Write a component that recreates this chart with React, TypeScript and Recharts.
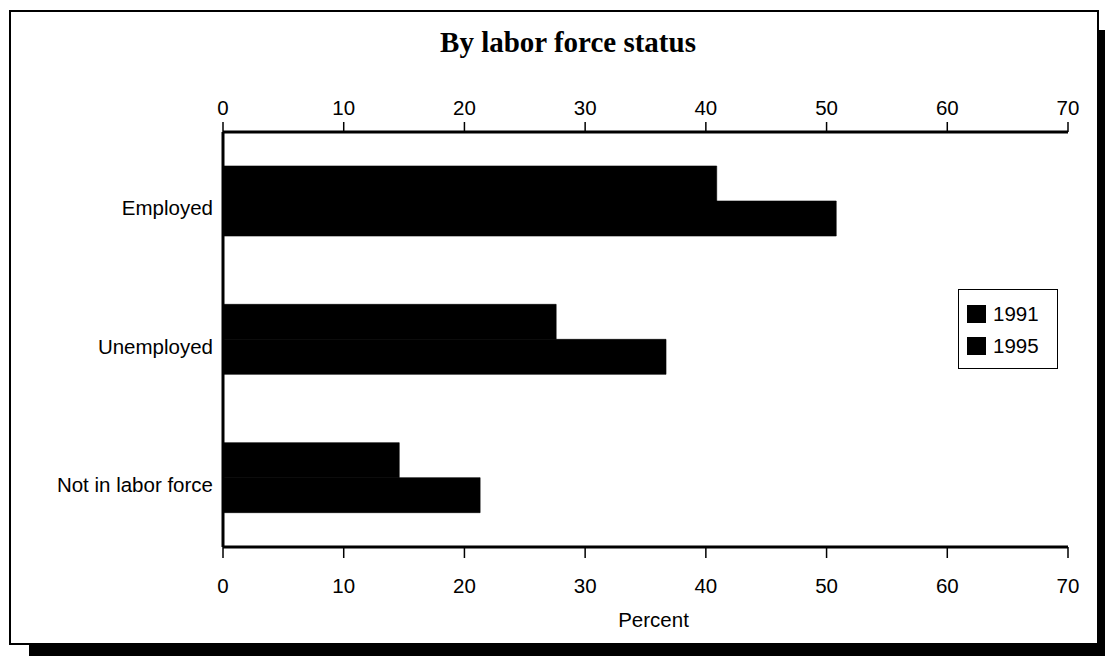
import { BarChart, Bar, XAxis, YAxis } from "recharts";

const categories = ["Employed", "Unemployed", "Not in labor force"];
const values1991 = [40.9, 27.6, 14.6];
const values1995 = [50.8, 36.7, 21.3];
const percentTicks = [0, 10, 20, 30, 40, 50, 60, 70];
const seriesNames = ["1991", "1995"];

const data = categories.map((name, i) => ({
  name,
  y1991: values1991[i],
  y1995: values1995[i],
}));

const SANS = '"Liberation Sans", Arial, sans-serif';
const FS = 20.5;

const LegendBox = () => (
  <div
    style={{
      position: "absolute",
      left: 958,
      top: 289,
      width: 100,
      height: 80,
      border: "1.5px solid #000",
      boxSizing: "border-box",
      background: "#fff",
      padding: "8px 0 0 8px",
      fontFamily: SANS,
      fontSize: FS,
      color: "#000",
    }}
  >
    {seriesNames.map((s) => (
      <div
        key={s}
        style={{ display: "flex", alignItems: "center", height: 32, lineHeight: "32px" }}
      >
        <span
          style={{
            display: "inline-block",
            width: 19,
            height: 18,
            background: "#000",
            marginRight: 7,
          }}
        />
        {s}
      </div>
    ))}
  </div>
);

export default function App() {
  return (
    <>
      {/* frame with drop shadow */}
      <div
        style={{
          position: "absolute",
          left: 9,
          top: 10,
          width: 1090,
          height: 635,
          border: "2px solid #000",
          boxSizing: "border-box",
          background: "#fff",
          boxShadow: "20px 20px 0 #000",
        }}
      />
      <div
        style={{
          position: "absolute",
          left: 568,
          top: 28,
          transform: "translateX(-50%)",
          fontFamily: '"Liberation Serif", "Times New Roman", serif',
          fontWeight: "bold",
          fontSize: 29,
          lineHeight: "29px",
          whiteSpace: "nowrap",
          color: "#000",
        }}
      >
        By labor force status
      </div>
      <div style={{ position: "absolute", left: 0, top: 0 }}>
        <BarChart
          width={1105}
          height={656}
          data={data}
          layout="vertical"
          margin={{ top: 0, right: 37, left: 0, bottom: 29 }}
          barGap={0}
        >
          <XAxis
            xAxisId="top"
            orientation="top"
            type="number"
            dataKey="y1995"
            domain={[0, 70]}
            allowDataOverflow
            ticks={percentTicks}
            height={132}
            axisLine={{ stroke: "#000", strokeWidth: 3 }}
            tickLine={{ stroke: "#000", strokeWidth: 1.5 }}
            tickSize={10}
            tickMargin={7}
            tick={{ fontSize: FS, fill: "#000", fontFamily: SANS }}
          />
          <XAxis
            xAxisId="bottom"
            orientation="bottom"
            type="number"
            domain={[0, 70]}
            allowDataOverflow
            ticks={percentTicks}
            height={80}
            axisLine={{ stroke: "#000", strokeWidth: 3 }}
            tickLine={{ stroke: "#000", strokeWidth: 1.5 }}
            tickSize={11}
            tickMargin={20}
            tick={{ fontSize: FS, fill: "#000", fontFamily: SANS }}
            label={{
              value: "Percent",
              position: "insideBottom",
              offset: 0,
              dx: 8,
              fill: "#000",
              fontSize: FS,
              fontFamily: SANS,
            }}
          />
          <YAxis
            type="category"
            dataKey="name"
            width={223}
            axisLine={{ stroke: "#000", strokeWidth: 3 }}
            tickLine={false}
            tickSize={0}
            tickMargin={10}
            tick={{ fontSize: FS, fill: "#000", fontFamily: SANS, dy: 7 }}
          />
          <Bar
            xAxisId="bottom"
            dataKey="y1991"
            name="1991"
            fill="#000"
            stroke="#000"
            strokeWidth={0.6}
            barSize={35}
            isAnimationActive={false}
          />
          <Bar
            xAxisId="bottom"
            dataKey="y1995"
            name="1995"
            fill="#000"
            stroke="#000"
            strokeWidth={0.6}
            barSize={35}
            isAnimationActive={false}
          />
        </BarChart>
      </div>
      <LegendBox />
    </>
  );
}
